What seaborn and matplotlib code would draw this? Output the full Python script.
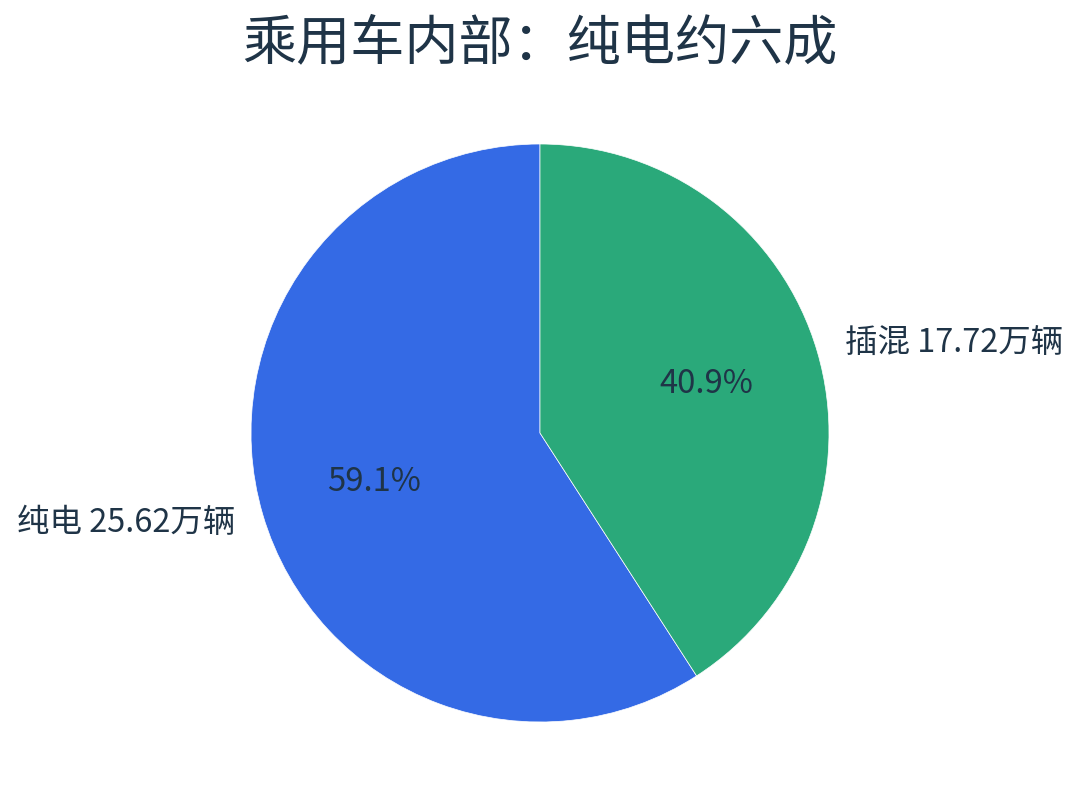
import matplotlib
matplotlib.use("Agg")
import matplotlib.pyplot as plt
import seaborn as sns

sns.set_theme(style="white")
plt.rcParams['font.family'] = ['Noto Sans CJK SC', 'DejaVu Sans']

categories = ["纯电", "插混"]
values = [25.62, 17.72]
units = "万辆"
colors = ["#346AE5", "#2AA97A"]
title = "乘用车内部：纯电约六成"
text_color = "#1F3447"

labels = [f"{c} {v:.2f}{units}" for c, v in zip(categories, values)]

fig = plt.figure(figsize=(10.8, 8.11), dpi=100)
R = 289
cx, cy = 540, 433
ax = fig.add_axes([(cx - R) / 1080, 1 - (cy + R) / 811, 2 * R / 1080, 2 * R / 811])
wedges, texts, autotexts = ax.pie(
    values, labels=labels, colors=colors, startangle=90, counterclock=True,
    autopct="%1.1f%%", pctdistance=0.6, labeldistance=1.1,
    wedgeprops=dict(linewidth=0.5, edgecolor="white"),
    textprops=dict(color=text_color, fontsize=23.4),
)
for t in autotexts:
    t.set_fontsize(23.6)
    t.set_color(text_color)
ax.set_xlim(-1, 1)
ax.set_ylim(-1, 1)
ax.set_aspect("equal")
fig.text(0.5, 1 - 44 / 811, title, ha="center", va="center", fontsize=39, color=text_color)
fig.savefig("out.png", dpi=100, facecolor="white")
